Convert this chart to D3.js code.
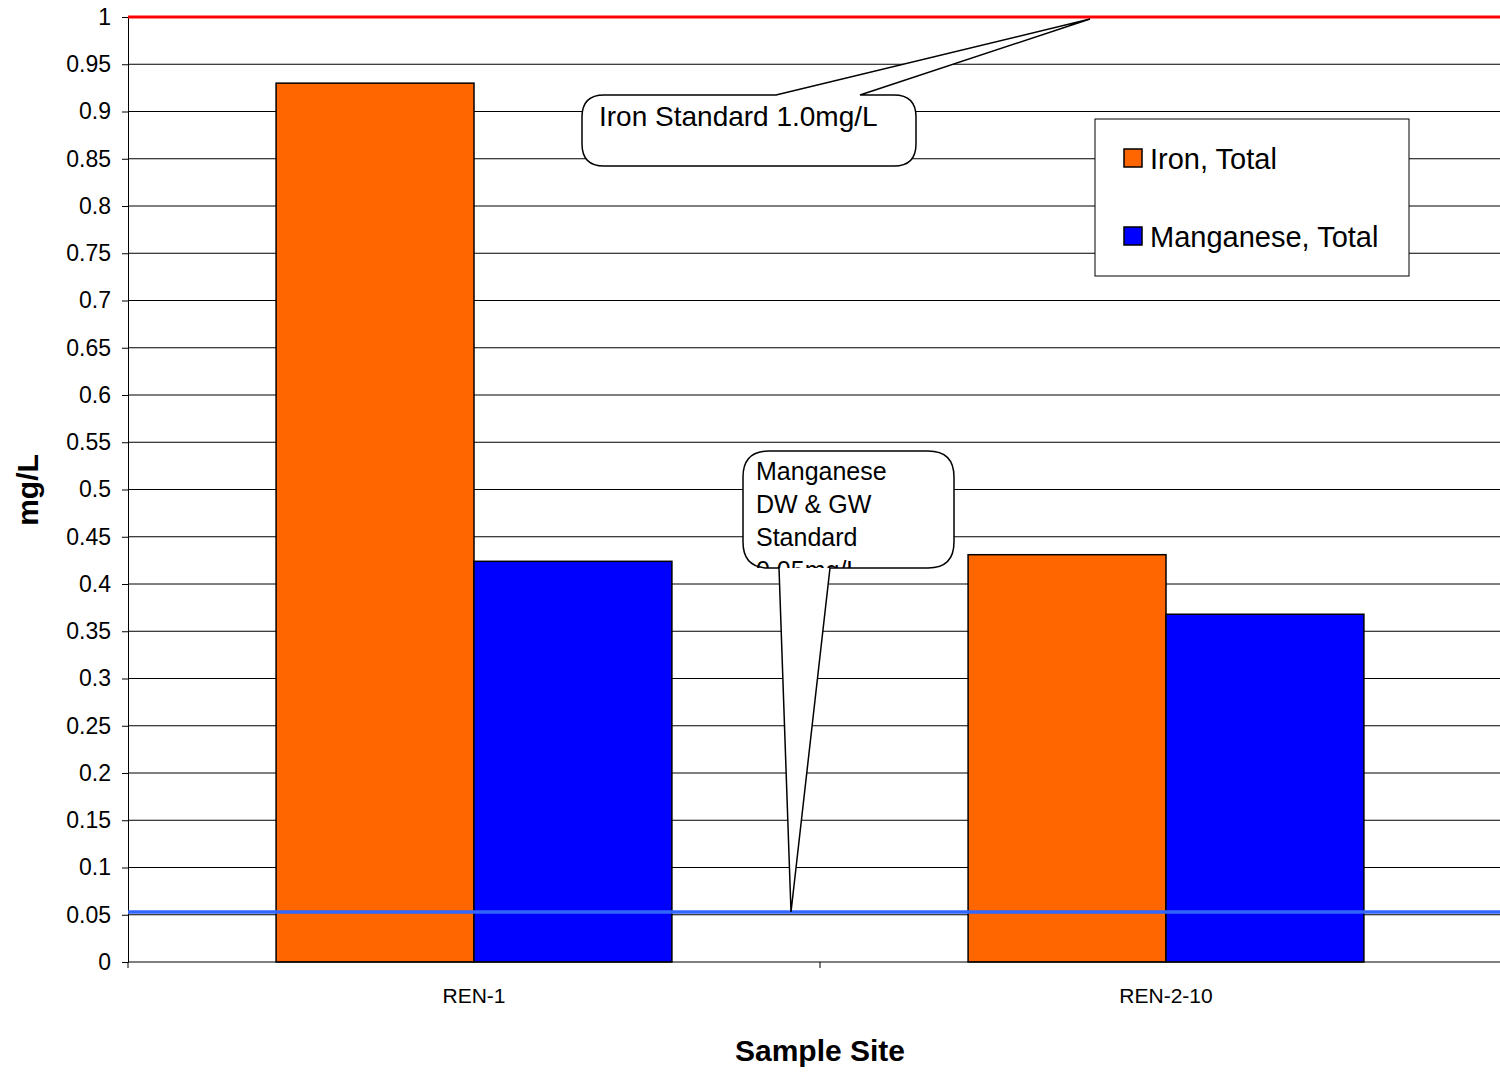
<!DOCTYPE html>
<html><head><meta charset="utf-8">
<script src="https://cdn.jsdelivr.net/npm/d3@7"></script>
<style>body{margin:0;background:#fff}text{font-family:Arial,"Liberation Sans",sans-serif}</style>
</head><body><svg id="c" width="1500" height="1073"></svg>
<script>
const sites = ["REN-1", "REN-2-10"];
const seriesNames = ["Iron, Total", "Manganese, Total"];
const seriesColors = ["#ff6600", "#0000ff"];
const iron = [0.93, 0.431];
const manganese = [0.424, 0.368];
const yTicks = d3.range(0, 1.0001, 0.05);
const ironStd = 1.0, mnStd = 0.053;

const svg = d3.select("#c");
const pl = 128, pr = 1500, pt = 17, pb = 962;
const x = d3.scaleBand().domain(sites).range([pl, 1512]).paddingInner(0.428).paddingOuter(0.214);
const y = d3.scaleLinear().domain([0, 1]).range([pb, pt]);
const xs = d3.scaleBand().domain([0, 1]).range([0, x.bandwidth()]);

// gridlines
svg.append("g").selectAll("line").data(yTicks.slice(1)).enter().append("line")
  .attr("x1", pl).attr("x2", pr).attr("y1", d => y(d)).attr("y2", d => y(d))
  .attr("stroke", "#000").attr("stroke-width", 1);

const data = sites.map((s, i) => ({site: s, vals: [iron[i], manganese[i]]}));
svg.append("g").selectAll("g").data(data).enter().append("g")
  .attr("transform", d => `translate(${x(d.site)},0)`)
  .selectAll("rect").data(d => d.vals).enter().append("rect")
  .attr("x", (d, i) => xs(i)).attr("width", xs.bandwidth())
  .attr("y", d => y(d)).attr("height", d => pb - y(d))
  .attr("fill", (d, i) => seriesColors[i]).attr("stroke", "#000").attr("stroke-width", 1.5);

// axes
const ya = svg.append("g").attr("transform", `translate(${pl},0)`)
  .call(d3.axisLeft(y).tickValues(yTicks).tickSize(6).tickFormat(d => String(+d.toFixed(2))));
ya.selectAll("text").attr("font-size", 23).attr("fill", "#000").attr("dx", -8);
svg.append("line").attr("x1", pl).attr("x2", pr).attr("y1", pb).attr("y2", pb).attr("stroke", "#000");
[pl, 820].forEach(v => svg.append("line").attr("x1", v).attr("x2", v).attr("y1", pb).attr("y2", pb + 6).attr("stroke", "#000"));
svg.selectAll(".xl").data(sites).enter().append("text")
  .attr("x", d => x(d) + x.bandwidth() / 2).attr("y", 1003).attr("text-anchor", "middle")
  .attr("font-size", 21).text(d => d);

// standards
svg.append("line").attr("x1", pl).attr("x2", pr).attr("y1", y(ironStd)).attr("y2", y(ironStd)).attr("stroke", "#ff0000").attr("stroke-width", 3);
svg.append("line").attr("x1", pl).attr("x2", pr).attr("y1", y(mnStd)).attr("y2", y(mnStd)).attr("stroke", "#3366ff").attr("stroke-width", 3.5);

// titles
svg.append("text").attr("x", 820).attr("y", 1061).attr("text-anchor", "middle").attr("font-size", 30).attr("font-weight", "bold").text("Sample Site");
svg.append("text").attr("transform", "translate(38,490) rotate(-90)").attr("text-anchor", "middle").attr("font-size", 30).attr("font-weight", "bold").text("mg/L");

// legend
const lg = svg.append("g");
lg.append("rect").attr("x", 1095).attr("y", 119).attr("width", 314).attr("height", 157).attr("fill", "#fff").attr("stroke", "#000");
seriesNames.forEach((n, i) => {
  const yy = 159 + i * 78;
  lg.append("rect").attr("x", 1124).attr("y", yy - 10).attr("width", 18).attr("height", 18).attr("fill", seriesColors[i]).attr("stroke", "#000").attr("stroke-width", 1.5);
  lg.append("text").attr("x", 1150).attr("y", yy + 10).attr("font-size", 29).text(n);
});

// callouts
function callout(x0, y0, w, h, r, tail, tip) {
  const p = d3.path();
  p.moveTo(x0 + r, y0);
  if (tail.side === "top") { p.lineTo(tail.a, y0); p.lineTo(tip[0], tip[1]); p.lineTo(tail.b, y0); }
  p.lineTo(x0 + w - r, y0); p.quadraticCurveTo(x0 + w, y0, x0 + w, y0 + r);
  p.lineTo(x0 + w, y0 + h - r); p.quadraticCurveTo(x0 + w, y0 + h, x0 + w - r, y0 + h);
  if (tail.side === "bottom") { p.lineTo(tail.b, y0 + h); p.lineTo(tip[0], tip[1]); p.lineTo(tail.a, y0 + h); }
  p.lineTo(x0 + r, y0 + h); p.quadraticCurveTo(x0, y0 + h, x0, y0 + h - r);
  p.lineTo(x0, y0 + r); p.quadraticCurveTo(x0, y0, x0 + r, y0);
  p.closePath();
  return p.toString();
}
svg.append("path").attr("d", callout(582, 95, 334, 71, 22, {side: "top", a: 776, b: 860}, [1090, 19]))
  .attr("fill", "#fff").attr("stroke", "#000").attr("stroke-width", 1.5);
svg.append("text").attr("x", 599).attr("y", 126).attr("font-size", 28).text("Iron Standard 1.0mg/L");

svg.append("defs").append("clipPath").attr("id", "mc").append("rect").attr("x", 743).attr("y", 451).attr("width", 211).attr("height", 117);
const mg = svg.append("g");
mg.append("path").attr("d", callout(743, 451, 211, 117, 26, {side: "bottom", a: 779, b: 830}, [791, 912]))
  .attr("fill", "#fff").attr("stroke", "#000").attr("stroke-width", 1.5);
const mt = mg.append("text").attr("clip-path", "url(#mc)").attr("font-size", 25);
["Manganese", "DW & GW", "Standard", "0.05mg/L"].forEach((t, i) =>
  mt.append("tspan").attr("x", 756).attr("y", 480 + i * 33).text(t));
</script></body></html>
